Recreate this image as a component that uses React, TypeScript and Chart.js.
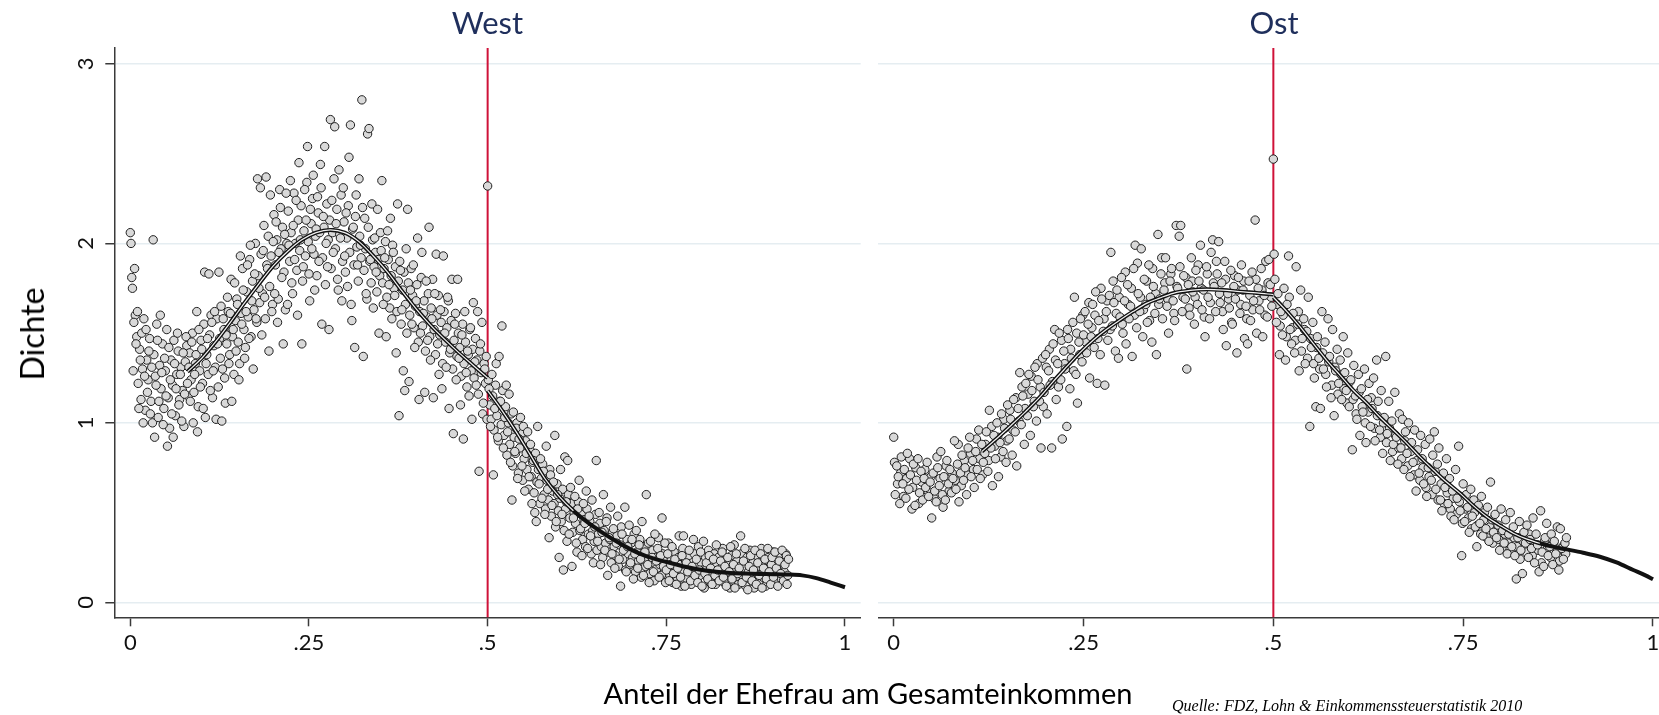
import React, { useEffect, useRef } from 'react';
import { Chart, registerables } from 'chart.js';

Chart.register(...registerables);

// ---------------- data ----------------
const xTickValues = [0, 0.25, 0.5, 0.75, 1];
const xTickLabels = ['0', '.25', '.5', '.75', '1'];
const yTickValues = [0, 1, 2, 3];
const yTickLabels = ['0', '1', '2', '3'];
const panelTitles = ['West', 'Ost'];
const thresholdShare = 0.5;
const yAxisTitle = 'Dichte';
const xAxisTitle = 'Anteil der Ehefrau am Gesamteinkommen';
const sourceNote = 'Quelle: FDZ, Lohn & Einkommenssteuerstatistik 2010';

// West: binned densities (share, density), even bins
const westPoints: [number, number][] = [
  [.000,2.06],[.001,2.00],[.002,1.81],[.003,1.75],[.004,1.29],[.005,1.56],[.006,1.86],[.008,1.44],[.010,1.62],[.012,1.08],
  [.014,1.35],[.016,1.50],[.018,1.00],[.020,1.26],[.022,1.52],[.024,1.17],[.026,1.40],[.028,1.05],[.030,1.31],[.032,2.02],
  [.034,0.92],[.036,1.21],[.038,1.46],[.040,1.12],[.042,1.60],[.044,1.28],[.046,0.99],[.048,1.36],[.050,1.15],[.052,0.87],
  [.054,1.42],[.056,1.24],[.058,1.05],[.060,0.92],[.062,1.33],[.064,1.19],[.066,1.50],[.068,1.10],[.070,1.27],[.072,1.01],
  [.074,1.39],[.076,1.16],[.078,1.48],[.080,1.22],[.082,1.31],[.084,1.12],[.086,1.45],[.088,1.00],[.090,1.27],[.092,1.38],
  [.094,0.95],[.096,1.52],[.098,1.20],[.100,1.41],[.102,1.08],[.104,1.84],[.106,1.33],[.108,1.47],[.110,1.83],[.112,1.18],
  [.114,1.56],[.116,1.29],[.118,1.62],[.120,1.02],[.122,1.44],[.124,1.84],[.126,1.36],[.128,1.01],[.130,1.58],[.132,1.25],
  [.134,1.49],[.136,1.70],[.138,1.33],[.140,1.61],[.142,1.12],[.144,1.52],[.146,1.78],[.148,1.40],[.150,1.66],[.152,1.24],
  [.154,1.93],[.156,1.55],[.158,1.74],[.160,1.36],[.162,1.62],[.164,1.88],[.166,1.47],[.168,1.99],[.170,1.68],[.172,1.30],
  [.174,1.83],[.176,1.58],[.178,2.36],[.180,1.75],[.182,2.31],[.184,1.49],[.186,1.96],[.188,1.70],[.190,2.37],[.192,1.86],
  [.194,1.40],[.196,2.27],[.198,1.62],[.200,2.01],[.202,1.72],[.204,2.12],[.206,1.56],[.208,1.95],[.210,2.20],[.212,1.81],
  [.214,1.44],[.216,2.05],[.218,2.28],[.220,1.66],[.222,1.99],[.224,2.35],[.226,1.78],[.228,2.10],[.230,1.91],[.232,2.24],
  [.234,1.60],[.236,2.45],[.238,2.02],[.240,1.44],[.242,1.87],[.244,2.30],[.246,2.13],[.248,2.54],[.250,1.83],[.252,2.19],
  [.254,1.97],[.256,2.38],[.258,1.74],[.260,2.08],[.262,2.26],[.264,1.90],[.266,2.44],[.268,1.55],[.270,2.15],[.272,2.54],
  [.274,2.00],[.276,1.87],[.278,1.52],[.280,2.69],[.282,2.24],[.284,1.95],[.286,2.65],[.288,2.11],[.290,1.80],[.292,2.41],
  [.294,2.03],[.296,1.68],[.298,2.31],[.300,1.93],[.302,2.17],[.304,1.76],[.306,2.48],[.308,2.66],[.310,1.57],[.312,2.09],
  [.314,1.42],[.316,2.27],[.318,1.88],[.320,2.36],[.322,1.99],[.324,2.80],[.326,1.37],[.328,2.14],[.330,1.72],[.332,2.61],
  [.334,2.64],[.336,1.91],[.338,2.22],[.340,1.64],[.342,2.03],[.344,1.84],[.346,2.19],[.348,1.50],[.350,2.06],[.352,2.35],
  [.354,1.66],[.356,1.92],[.358,1.48],[.360,2.07],[.362,1.77],[.364,2.14],[.366,1.58],[.368,1.95],[.370,1.71],[.372,1.39],
  [.374,2.22],[.376,1.04],[.378,1.85],[.380,1.63],[.382,1.29],[.384,1.18],[.386,1.97],[.388,2.19],[.390,1.23],[.392,1.74],
  [.394,1.55],[.396,1.88],[.398,1.42],[.400,1.68],[.402,2.03],[.404,1.13],[.406,1.50],[.408,1.95],[.410,1.61],[.412,1.17],
  [.414,1.79],[.416,1.46],[.418,2.09],[.420,1.35],[.422,1.58],[.424,1.14],[.426,1.72],[.428,1.94],[.430,1.44],[.432,1.27],
  [.434,1.63],[.436,1.19],[.438,1.93],[.440,1.50],[.442,1.31],[.444,1.70],[.446,1.08],[.448,1.41],[.450,1.80],[.452,0.94],
  [.454,1.55],[.456,1.24],[.458,1.80],[.460,1.36],[.462,1.10],[.464,1.49],[.466,0.91],[.468,1.62],[.470,1.28],[.472,1.40],
  [.474,1.15],[.476,1.53],[.478,1.02],[.480,1.67],[.482,1.34],[.484,1.21],[.486,1.62],[.488,0.73],[.490,1.44],[.492,1.56],
  [.494,1.11],[.496,1.30],[.498,1.37],[.500,2.32],[.502,1.19],[.504,0.98],[.506,1.27],[.508,0.71],[.510,1.08],[.512,1.33],
  [.514,0.92],[.516,1.37],[.518,1.12],[.520,1.54],[.522,0.86],[.524,1.03],[.526,1.21],[.528,0.95],[.530,1.16],[.532,0.78],
  [.534,0.57],[.536,1.06],[.538,0.84],[.540,0.97],[.542,0.69],[.544,0.91],[.546,1.03],[.548,0.76],[.550,0.98],[.552,0.62],
  [.554,0.83],[.556,0.95],[.558,0.70],[.560,0.88],[.562,0.55],[.564,0.79],[.566,0.50],[.568,0.45],[.570,0.98],[.572,0.66],
  [.574,0.80],[.576,0.58],[.578,0.73],[.580,0.49],[.582,0.87],[.584,0.63],[.586,0.36],[.588,0.71],[.590,0.54],[.592,0.67],
  [.594,0.93],[.596,0.45],[.598,0.60],[.600,0.25],[.602,0.74],[.604,0.49],[.606,0.18],[.608,0.81],[.610,0.56],[.612,0.79],
  [.614,0.38],[.616,0.64],[.618,0.20],[.620,0.47],[.622,0.59],[.624,0.33],[.626,0.52],[.628,0.68],[.630,0.41],[.632,0.26],
  [.634,0.55],[.636,0.44],[.638,0.62],[.640,0.30],[.642,0.48],[.644,0.37],[.646,0.57],[.648,0.22],[.650,0.42],[.652,0.79],
  [.654,0.34],[.656,0.50],[.658,0.21],[.660,0.39],[.662,0.60],[.664,0.29],[.666,0.45],[.668,0.15],[.670,0.36],[.672,0.53],
  [.674,0.27],[.676,0.41],[.678,0.19],[.680,0.33],[.682,0.48],[.684,0.24],[.686,0.09],[.688,0.38],[.690,0.29],[.692,0.53],
  [.694,0.17],[.696,0.31],[.698,0.43],[.700,0.22],[.702,0.35],[.704,0.13],[.706,0.27],[.708,0.40],[.710,0.19],[.712,0.32],
  [.714,0.24],[.716,0.45],[.718,0.15],[.720,0.28],[.722,0.60],[.724,0.21],[.726,0.11],[.728,0.34],[.730,0.25],[.732,0.17],
  [.734,0.38],[.736,0.23],[.738,0.30],[.740,0.14],[.742,0.26],[.744,0.47],[.746,0.20],[.748,0.33],[.750,0.18],[.752,0.27],
  [.754,0.12],[.756,0.21],[.758,0.31],[.760,0.16],[.762,0.24],[.764,0.10],[.766,0.19],[.768,0.37],[.770,0.14],[.772,0.26],
  [.774,0.37],[.776,0.09],[.778,0.22],[.780,0.17],[.782,0.29],[.784,0.12],[.786,0.20],[.788,0.35],[.790,0.15],[.792,0.24],
  [.794,0.11],[.796,0.18],[.798,0.28],[.800,0.09],[.802,0.34],[.804,0.16],[.806,0.22],[.808,0.13],[.810,0.26],[.812,0.19],
  [.814,0.10],[.816,0.24],[.818,0.15],[.820,0.32],[.822,0.18],[.824,0.12],[.826,0.23],[.828,0.28],[.830,0.14],[.832,0.20],
  [.834,0.09],[.836,0.25],[.838,0.17],[.840,0.31],[.842,0.13],[.844,0.21],[.846,0.08],[.848,0.27],[.850,0.16],[.852,0.19],
  [.854,0.37],[.856,0.11],[.858,0.23],[.860,0.30],[.862,0.14],[.864,0.07],[.866,0.20],[.868,0.26],[.870,0.12],[.872,0.18],
  [.874,0.29],[.876,0.10],[.878,0.22],[.880,0.15],[.882,0.27],[.884,0.08],[.886,0.19],[.888,0.24],[.890,0.13],[.892,0.30],
  [.894,0.17],[.896,0.10],[.898,0.25],[.900,0.14],[.902,0.28],[.904,0.19],[.906,0.09],[.908,0.23],[.910,0.16],[.912,0.29],
  [.914,0.12],[.916,0.21],[.918,0.26],[.919,0.10],[.920,0.15],[.921,0.24],
];

// West: odd bins
const westPointsOdd: [number, number][] = [
  [.007,1.60],[.009,1.48],[.011,1.22],[.013,1.41],[.015,1.13],[.017,1.30],[.019,1.58],[.021,1.07],[.023,1.35],[.025,1.24],
  [.027,1.47],[.029,1.12],[.031,1.00],[.033,1.38],[.035,1.26],[.037,1.55],[.039,1.03],[.041,1.32],[.043,1.19],[.045,1.44],
  [.047,1.08],[.049,1.29],[.051,1.52],[.053,1.14],[.055,0.97],[.057,1.35],[.059,1.21],[.061,1.46],[.063,1.04],[.065,1.27],
  [.067,1.40],[.069,1.13],[.071,1.31],[.073,1.18],[.075,0.98],[.077,1.34],[.079,1.43],[.081,1.15],[.083,1.39],[.085,1.24],
  [.087,1.50],[.089,1.17],[.091,1.33],[.093,1.62],[.095,1.09],[.097,1.29],[.099,1.46],[.101,1.22],[.103,1.55],[.105,1.03],
  [.107,1.38],[.109,1.27],[.111,1.49],[.113,1.60],[.115,1.14],[.117,1.43],[.119,1.31],[.121,1.58],[.123,1.20],[.125,1.47],
  [.127,1.65],[.129,1.30],[.131,1.52],[.133,1.11],[.135,1.44],[.137,1.62],[.139,1.38],[.141,1.80],[.143,1.48],[.145,1.27],
  [.147,1.57],[.149,1.69],[.151,1.45],[.153,1.33],[.155,1.61],[.157,1.86],[.159,1.52],[.161,1.42],[.163,1.73],[.165,1.59],
  [.167,1.91],[.169,1.48],[.171,1.79],[.173,1.63],[.175,2.00],[.177,1.56],[.179,1.82],[.181,1.67],[.183,1.94],[.185,1.72],
  [.187,2.10],[.189,1.58],[.191,1.88],[.193,2.04],[.195,1.76],[.197,1.93],[.199,1.66],[.201,2.16],[.203,1.88],[.205,2.02],
  [.207,1.69],[.209,2.30],[.211,1.97],[.213,2.09],[.215,1.84],[.217,1.63],[.219,2.00],[.221,2.18],[.223,1.90],[.225,2.06],
  [.227,1.72],[.229,2.28],[.231,2.00],[.233,1.85],[.235,2.13],[.237,1.96],[.239,2.21],[.241,1.79],[.243,2.07],[.245,1.93],
  [.247,2.34],[.249,2.01],[.251,1.68],[.253,2.11],[.255,2.25],[.257,1.94],[.259,2.04],[.261,1.82],[.263,2.17],[.265,2.06],
  [.267,2.31],[.269,1.92],[.271,2.09],[.273,1.77],[.275,2.22],[.277,2.02],[.279,2.13],[.281,1.86],[.283,2.06],[.285,2.36],
  [.287,1.97],[.289,2.19],[.291,1.74],[.293,2.05],[.295,2.27],[.297,1.90],[.299,2.12],[.301,1.84],[.303,2.03],[.305,2.21],
  [.307,1.95],[.309,1.66],[.311,2.08],[.313,1.88],[.315,2.15],[.317,1.98],[.319,1.79],[.321,2.04],[.323,1.92],[.325,2.20],
  [.327,1.85],[.329,1.97],[.331,1.69],[.333,2.09],[.335,1.90],[.337,1.78],[.339,2.02],[.341,1.87],[.343,1.95],[.345,1.73],
  [.347,1.91],[.349,1.82],[.351,1.96],[.353,1.78],[.355,1.86],[.357,2.01],[.359,1.70],[.361,1.91],[.363,1.64],[.365,1.82],
  [.367,1.99],[.369,1.75],[.371,1.87],[.373,1.62],[.375,1.79],[.377,1.90],[.379,1.55],[.381,1.74],[.383,1.84],[.385,1.66],
  [.387,1.50],[.389,1.78],[.391,1.60],[.393,1.86],[.395,1.71],[.397,1.53],[.399,1.65],[.401,1.77],[.403,1.45],[.405,1.62],
  [.407,1.81],[.409,1.54],[.411,1.68],[.413,1.40],[.415,1.59],[.417,1.72],[.419,1.48],[.421,1.64],[.423,1.80],[.425,1.52],
  [.427,1.38],[.429,1.60],[.431,1.71],[.433,1.49],[.435,1.56],[.437,1.33],[.439,1.62],[.441,1.45],[.443,1.53],[.445,1.68],
  [.447,1.39],[.449,1.57],[.451,1.30],[.453,1.46],[.455,1.61],[.457,1.37],[.459,1.50],[.461,1.42],[.463,1.26],[.465,1.55],
  [.467,1.33],[.469,1.45],[.471,1.20],[.473,1.38],[.475,1.52],[.477,1.29],[.479,1.41],[.481,1.25],[.483,1.47],[.485,1.35],
  [.487,1.16],[.489,1.40],[.491,1.28],[.493,1.05],[.495,1.33],[.497,1.22],[.499,1.02],[.501,1.24],[.503,1.10],[.505,1.02],
  [.507,1.15],[.509,0.96],[.511,1.21],[.513,1.04],[.515,0.90],[.517,1.12],[.519,0.99],[.521,1.18],[.523,0.93],[.525,1.09],
  [.527,0.82],[.529,1.00],[.531,0.88],[.533,1.05],[.535,0.76],[.537,0.92],[.539,0.83],[.541,1.00],[.543,0.72],[.545,0.86],
  [.547,0.94],[.549,0.68],[.551,0.80],[.553,0.90],[.555,0.74],[.557,0.63],[.559,0.85],[.561,0.70],[.563,0.78],[.565,0.61],
  [.567,0.83],[.569,0.67],[.571,0.74],[.573,0.55],[.575,0.69],[.577,0.77],[.579,0.60],[.581,0.52],[.583,0.68],[.585,0.57],
  [.587,0.74],[.589,0.48],[.591,0.62],[.593,0.55],[.595,0.42],[.597,0.66],[.599,0.51],[.601,0.58],[.603,0.45],[.605,0.63],
  [.607,0.40],[.609,0.52],[.611,0.34],[.613,0.60],[.615,0.47],[.617,0.55],[.619,0.39],[.621,0.50],[.623,0.44],[.625,0.28],
  [.627,0.56],[.629,0.40],[.631,0.49],[.633,0.35],[.635,0.46],[.637,0.31],[.639,0.52],[.641,0.38],[.643,0.45],[.645,0.27],
  [.647,0.40],[.649,0.34],[.651,0.49],[.653,0.29],[.655,0.38],[.657,0.44],[.659,0.31],[.661,0.25],[.663,0.40],[.665,0.33],
  [.667,0.47],[.669,0.28],[.671,0.35],[.673,0.22],[.675,0.39],[.677,0.31],[.679,0.26],[.681,0.37],[.683,0.20],[.685,0.32],
  [.687,0.42],[.689,0.24],[.691,0.30],[.693,0.18],[.695,0.35],[.697,0.27],[.699,0.21],[.701,0.33],[.703,0.25],[.705,0.38],
  [.707,0.17],[.709,0.28],[.711,0.23],[.713,0.35],[.715,0.14],[.717,0.26],[.719,0.31],[.721,0.20],[.723,0.24],[.725,0.33],
  [.727,0.16],[.729,0.22],[.731,0.29],[.733,0.12],[.735,0.25],[.737,0.19],[.739,0.36],[.741,0.21],[.743,0.15],[.745,0.27],
  [.747,0.23],[.749,0.11],[.751,0.20],[.753,0.33],[.755,0.15],[.757,0.24],[.759,0.11],[.761,0.28],[.763,0.19],[.765,0.14],
  [.767,0.25],[.769,0.21],[.771,0.09],[.773,0.30],[.775,0.17],[.777,0.23],[.779,0.13],[.781,0.26],[.783,0.20],[.785,0.10],
  [.787,0.16],[.789,0.27],[.791,0.21],[.793,0.13],[.795,0.31],[.797,0.15],[.799,0.22],[.801,0.18],[.803,0.08],[.805,0.25],
  [.807,0.19],[.809,0.29],[.811,0.12],[.813,0.22],[.815,0.16],[.817,0.27],[.819,0.10],[.821,0.21],[.823,0.25],[.825,0.14],
  [.827,0.19],[.829,0.30],[.831,0.11],[.833,0.24],[.835,0.17],[.837,0.21],[.839,0.08],[.841,0.26],[.843,0.18],[.845,0.32],
  [.847,0.14],[.849,0.23],[.851,0.10],[.853,0.20],[.855,0.27],[.857,0.15],[.859,0.19],[.861,0.09],[.863,0.25],[.865,0.17],
  [.867,0.29],[.869,0.13],[.871,0.22],[.873,0.08],[.875,0.18],[.877,0.26],[.879,0.11],[.881,0.20],[.883,0.30],[.885,0.14],
  [.887,0.23],[.889,0.09],[.891,0.18],[.893,0.25],[.895,0.12],[.897,0.21],[.899,0.28],[.901,0.16],[.903,0.11],[.905,0.24],
  [.907,0.19],[.909,0.27],[.911,0.13],[.913,0.22],[.915,0.17],[.917,0.27],
];

const westCurveLeft: [number, number][] = [
  [.080,1.285],[.100,1.36],[.120,1.455],[.140,1.56],[.160,1.67],[.180,1.775],[.200,1.875],[.220,1.955],[.240,2.02],
  [.260,2.06],[.280,2.075],[.300,2.06],[.320,2.01],[.340,1.93],[.360,1.84],[.380,1.735],[.400,1.635],[.420,1.545],
  [.440,1.465],[.460,1.39],[.480,1.32],[.500,1.25],
];
const westCurveRight: [number, number][] = [
  [.500,1.18],[.520,1.07],[.540,0.95],[.560,0.82],[.580,0.69],[.600,0.59],[.620,0.51],[.640,0.445],[.660,0.39],
  [.680,0.34],[.700,0.295],[.720,0.26],[.740,0.235],[.760,0.215],[.780,0.195],[.800,0.18],[.820,0.17],[.840,0.163],
  [.860,0.16],[.880,0.158],[.900,0.157],[.920,0.155],[.940,0.15],[.960,0.135],[.980,0.11],[1.000,0.084],
];

// Ost: binned densities (share, density)
const ostPoints: [number, number][] = [
  [.000,0.92],[.002,0.60],[.004,0.76],[.006,0.70],[.008,0.55],[.010,0.81],[.012,0.66],[.014,0.74],[.016,0.58],[.018,0.83],
  [.020,0.63],[.022,0.71],[.024,0.52],[.026,0.77],[.028,0.54],[.030,0.68],[.032,0.80],[.034,0.61],[.036,0.73],[.038,0.57],
  [.040,0.69],[.042,0.64],[.044,0.78],[.046,0.59],[.048,0.67],[.050,0.47],[.052,0.72],[.054,0.62],[.056,0.56],[.058,0.75],
  [.060,0.65],[.062,0.84],[.064,0.60],[.066,0.70],[.068,0.57],[.070,0.79],[.072,0.66],[.074,0.74],[.076,0.61],[.078,0.69],
  [.080,0.90],[.082,0.63],[.084,0.77],[.086,0.56],[.088,0.72],[.090,0.82],[.092,0.68],[.094,0.75],[.096,0.60],[.098,0.86],
  [.100,0.92],[.102,0.70],[.104,0.79],[.106,0.64],[.108,0.84],[.110,0.74],[.112,0.96],[.114,0.69],[.116,0.88],[.118,0.78],
  [.120,0.83],[.122,0.95],[.124,0.73],[.126,1.07],[.128,0.86],[.130,0.65],[.132,0.93],[.134,0.80],[.136,1.00],[.138,0.70],
  [.140,0.89],[.142,1.05],[.144,0.84],[.146,0.97],[.148,0.78],[.150,1.10],[.152,0.91],[.154,1.02],[.156,0.82],[.158,1.13],
  [.160,0.95],[.162,0.76],[.164,1.08],[.166,1.28],[.168,0.99],[.170,1.15],[.172,0.88],[.174,1.22],[.176,1.04],[.178,1.27],
  [.180,0.93],[.182,1.18],[.184,1.09],[.186,1.31],[.188,1.01],[.190,1.24],[.192,1.12],[.194,0.86],[.196,1.36],[.198,1.17],
  [.200,1.38],[.202,1.05],[.204,1.29],[.206,1.21],[.208,0.86],[.210,1.44],[.212,1.52],[.214,1.13],[.216,1.33],[.218,1.50],
  [.220,1.24],[.222,0.91],[.224,1.40],[.226,1.30],[.228,0.98],[.230,1.47],[.232,1.19],[.234,1.36],[.236,1.56],[.238,1.70],
  [.240,1.27],[.242,1.11],[.244,1.45],[.246,1.58],[.248,1.34],[.250,1.49],[.252,1.62],[.254,1.39],[.256,1.55],[.258,1.25],
  [.260,1.48],[.262,1.66],[.264,1.42],[.266,1.73],[.268,1.22],[.270,1.57],[.272,1.38],[.274,1.69],[.276,1.51],[.278,1.21],
  [.280,1.62],[.282,1.46],[.284,1.71],[.286,1.95],[.288,1.54],[.290,1.67],[.292,1.40],[.294,1.74],[.296,1.36],[.298,1.59],
  [.300,1.81],[.302,1.50],[.304,1.68],[.306,1.44],[.308,1.77],[.310,1.58],[.312,1.65],[.314,1.37],[.316,1.86],[.318,1.99],
  [.320,1.53],[.322,1.72],[.324,1.62],[.326,1.97],[.328,1.48],[.330,1.80],[.332,1.66],[.334,1.56],[.336,1.88],[.338,1.70],
  [.340,1.45],[.342,1.76],[.344,1.61],[.346,1.38],[.348,2.05],[.350,1.69],[.352,1.83],[.354,1.58],[.356,1.74],[.358,1.92],
  [.360,1.65],[.362,1.50],[.364,1.79],[.366,1.86],[.368,1.68],[.370,1.57],[.372,2.10],[.374,1.75],[.376,2.04],[.378,2.10],
  [.380,1.62],[.382,1.82],[.384,1.69],[.386,1.30],[.388,1.77],[.390,1.60],[.392,1.92],[.394,1.73],[.396,1.55],[.398,1.85],
  [.400,1.66],[.402,1.79],[.404,1.99],[.406,1.63],[.408,1.74],[.410,1.48],[.412,1.87],[.414,1.70],[.416,1.58],[.418,1.95],
  [.420,2.02],[.422,1.76],[.424,1.62],[.426,1.83],[.428,2.01],[.430,1.67],[.432,1.78],[.434,1.52],[.436,1.90],[.438,1.43],
  [.440,1.72],[.442,1.64],[.444,1.85],[.446,1.55],[.448,1.76],[.450,1.69],[.452,1.39],[.454,1.81],[.456,1.61],[.458,1.88],
  [.460,1.74],[.462,1.47],[.464,1.65],[.466,1.44],[.468,1.79],[.470,1.57],[.472,1.84],[.474,1.68],[.476,2.13],[.478,1.50],
  [.480,1.75],[.482,1.63],[.484,1.86],[.486,1.48],[.488,1.71],[.490,1.90],[.492,1.59],[.494,1.91],[.496,1.77],[.498,1.65],
  [.500,2.47],[.501,1.94],[.502,1.80],[.504,1.56],[.506,1.72],[.508,1.38],[.510,1.62],[.512,1.49],[.514,1.75],[.516,1.35],
  [.518,1.66],[.520,1.93],[.522,1.52],[.524,1.44],[.526,1.61],[.528,1.39],[.530,1.87],[.532,1.55],[.534,1.29],[.536,1.74],
  [.538,1.47],[.540,1.58],[.542,1.33],[.544,1.51],[.546,1.70],[.548,0.98],[.550,1.42],[.552,1.56],[.554,1.25],[.556,1.09],
  [.558,1.48],[.560,1.36],[.562,1.08],[.564,1.62],[.566,1.30],[.568,1.45],[.570,1.20],[.572,1.58],[.574,1.37],[.576,1.14],
  [.578,1.52],[.580,1.04],[.582,1.29],[.584,1.41],[.586,1.22],[.588,1.35],[.590,1.13],[.592,1.48],[.594,1.28],[.596,1.18],
  [.598,1.39],[.600,1.09],[.602,1.24],[.604,0.85],[.606,1.32],[.608,1.15],[.610,1.02],[.612,1.27],[.614,0.93],[.616,1.19],
  [.618,1.06],[.620,1.30],[.622,0.89],[.624,1.13],[.626,1.22],[.628,0.98],[.630,1.08],[.632,1.25],[.634,0.90],[.636,1.35],
  [.638,1.12],[.640,0.96],[.642,1.18],[.644,0.83],[.646,1.03],[.648,1.37],[.650,0.94],[.652,1.12],[.654,0.79],[.656,1.01],
  [.658,0.88],[.660,1.17],[.662,0.92],[.664,0.77],[.666,1.05],[.668,0.86],[.670,1.02],[.672,0.74],[.674,0.95],[.676,0.83],
  [.678,1.00],[.680,0.70],[.682,0.89],[.684,0.78],[.686,0.96],[.688,0.62],[.690,0.85],[.692,0.72],[.694,0.93],[.696,0.80],
  [.698,0.66],[.700,0.88],[.702,0.59],[.704,0.75],[.706,0.91],[.708,0.68],[.710,0.82],[.712,0.95],[.714,0.63],[.716,0.77],
  [.718,0.86],[.720,0.57],[.722,0.51],[.724,0.72],[.726,0.64],[.728,0.80],[.730,0.55],[.732,0.69],[.734,0.48],[.736,0.62],
  [.738,0.46],[.740,0.74],[.742,0.58],[.744,0.87],[.746,0.51],[.748,0.26],[.750,0.66],[.752,0.45],[.754,0.60],[.756,0.53],
  [.758,0.39],[.760,0.63],[.762,0.48],[.764,0.57],[.766,0.42],[.768,0.31],[.770,0.54],[.772,0.44],[.774,0.59],[.776,0.37],
  [.778,0.50],[.780,0.41],[.782,0.53],[.784,0.34],[.786,0.67],[.788,0.46],[.790,0.39],[.792,0.49],[.794,0.36],[.796,0.43],
  [.798,0.29],[.800,0.52],[.802,0.40],[.804,0.33],[.806,0.46],[.808,0.27],[.810,0.38],[.812,0.50],[.814,0.31],[.816,0.42],
  [.818,0.26],[.820,0.13],[.822,0.36],[.824,0.45],[.826,0.29],[.828,0.16],[.830,0.39],[.832,0.33],[.834,0.43],[.836,0.25],
  [.838,0.35],[.840,0.30],[.842,0.47],[.844,0.22],[.846,0.38],[.848,0.32],[.850,0.17],[.852,0.51],[.854,0.28],[.856,0.20],
  [.858,0.36],[.860,0.44],[.862,0.26],[.864,0.31],[.866,0.38],[.868,0.21],[.870,0.34],[.872,0.27],[.874,0.42],[.876,0.18],
  [.878,0.41],[.880,0.30],[.882,0.24],[.884,0.33],[.886,0.36],
];

// Ost: further bins
const ostPointsOdd: [number, number][] = [
  [.001,0.78],[.005,0.66],[.009,0.72],[.013,0.59],[.017,0.69],[.021,0.80],[.025,0.64],[.029,0.75],[.033,0.55],[.037,0.67],
  [.041,0.74],[.045,0.62],[.049,0.70],[.053,0.58],[.057,0.81],[.061,0.69],[.065,0.53],[.069,0.76],[.073,0.62],[.077,0.72],
  [.081,0.68],[.085,0.88],[.089,0.65],[.093,0.79],[.097,0.71],[.101,0.83],[.105,0.74],[.109,0.91],[.113,0.80],[.117,0.71],
  [.121,0.88],[.125,0.79],[.129,0.98],[.133,0.87],[.137,0.92],[.141,0.81],[.145,1.02],[.149,0.90],[.153,1.07],[.157,0.96],
  [.161,1.14],[.165,1.01],[.169,1.20],[.173,1.08],[.177,1.16],[.181,1.26],[.185,1.12],[.189,1.33],[.193,1.20],[.197,1.09],
  [.201,1.31],[.205,1.41],[.209,1.23],[.213,1.35],[.217,1.20],[.221,1.46],[.225,1.33],[.229,1.52],[.233,1.41],[.237,1.29],
  [.241,1.50],[.245,1.38],[.249,1.60],[.253,1.45],[.257,1.67],[.261,1.53],[.265,1.60],[.269,1.47],[.273,1.75],[.277,1.58],
  [.281,1.68],[.285,1.52],[.289,1.79],[.293,1.61],[.297,1.70],[.301,1.55],[.305,1.84],[.309,1.66],[.313,1.75],[.317,1.60],
  [.321,1.89],[.325,1.70],[.329,1.63],[.333,1.79],[.337,1.57],[.341,1.86],[.345,1.72],[.349,1.66],[.353,1.92],[.357,1.78],
  [.361,1.69],[.365,1.83],[.369,1.61],[.373,1.76],[.377,1.87],[.381,1.70],[.385,1.81],[.389,1.64],[.393,1.79],[.397,1.70],
  [.401,1.88],[.405,1.75],[.409,1.59],[.413,1.83],[.417,1.67],[.421,1.78],[.425,1.90],[.429,1.72],[.433,1.62],[.437,1.80],
  [.441,1.69],[.445,1.56],[.449,1.82],[.453,1.74],[.457,1.66],[.461,1.79],[.465,1.58],[.469,1.71],[.473,1.63],[.477,1.80],
  [.481,1.68],[.485,1.74],[.489,1.60],[.493,1.78],[.497,1.70],[.505,1.66],[.509,1.54],[.513,1.60],[.517,1.48],[.521,1.70],
  [.525,1.53],[.529,1.46],[.533,1.62],[.537,1.40],[.541,1.52],[.545,1.36],[.549,1.47],[.553,1.33],[.557,1.42],[.561,1.30],
  [.565,1.39],[.569,1.27],[.573,1.34],[.577,1.21],[.581,1.31],[.585,1.16],[.589,1.27],[.593,1.19],[.597,1.11],[.601,1.23],
  [.605,1.13],[.609,1.05],[.613,1.17],[.617,1.09],[.621,1.00],[.625,1.06],[.629,1.14],[.633,0.97],[.637,1.04],[.641,0.92],
  [.645,1.00],[.649,0.89],[.653,0.97],[.657,0.84],[.661,0.93],[.665,0.86],[.669,0.80],[.673,0.90],[.677,0.76],[.681,0.84],
  [.685,0.71],[.689,0.79],[.693,0.68],[.697,0.75],[.701,0.64],[.705,0.70],[.709,0.60],[.713,0.73],[.717,0.57],[.721,0.66],
  [.725,0.55],[.729,0.61],[.733,0.52],[.737,0.58],[.741,0.49],[.745,0.56],[.749,0.44],[.753,0.52],[.757,0.47],[.761,0.41],
  [.765,0.50],[.769,0.43],[.773,0.38],[.777,0.46],[.781,0.36],[.785,0.42],[.789,0.33],[.793,0.40],[.797,0.35],[.801,0.30],
  [.805,0.38],[.809,0.33],[.813,0.28],[.817,0.36],[.821,0.31],[.825,0.24],[.829,0.34],[.833,0.28],[.837,0.38],[.841,0.26],
  [.845,0.32],[.849,0.29],[.853,0.22],[.857,0.34],[.861,0.30],[.865,0.25],[.869,0.33],[.873,0.28],[.877,0.23],[.881,0.31],
  [.885,0.27],
];

const ostCurveLeft: [number, number][] = [
  [.116,0.84],[.135,0.91],[.153,0.98],[.173,1.06],[.193,1.146],[.210,1.23],[.228,1.313],[.245,1.39],[.263,1.462],
  [.280,1.52],[.298,1.573],[.315,1.62],[.333,1.666],[.350,1.695],[.368,1.722],[.390,1.738],[.412,1.744],[.434,1.74],
  [.456,1.731],[.478,1.724],[.500,1.715],
];
const ostCurveRight: [number, number][] = [
  [.500,1.70],[.518,1.62],[.535,1.536],[.553,1.44],[.570,1.35],[.588,1.265],[.605,1.183],[.623,1.11],[.640,1.034],
  [.658,0.96],[.676,0.886],[.693,0.81],[.711,0.737],[.728,0.67],[.746,0.607],[.763,0.54],[.781,0.477],[.798,0.43],
  [.816,0.385],[.834,0.352],[.851,0.329],[.868,0.31],[.886,0.295],[.908,0.276],[.930,0.254],[.952,0.222],[.974,0.18],
  [.990,0.15],[1.000,0.128],
];

// ---------------- styling ----------------
const FONT = 'Lato, "Open Sans", "DejaVu Sans", sans-serif';
const TITLE_COLOR = '#1f2f5c';
const RED = '#cf1239';
const GRID = '#e5edf1';
const AXIS = '#3a3a3a';
const H = 715;

const panelPlugin = {
  id: 'panel',
  beforeDatasetsDraw(chart: any, _a: any, o: any) {
    const { ctx, chartArea } = chart;
    const px = chart.scales.x.getPixelForValue(o.refX);
    ctx.save();
    ctx.strokeStyle = RED;
    ctx.lineWidth = 2;
    ctx.beginPath();
    ctx.moveTo(px, chartArea.top);
    ctx.lineTo(px, chartArea.bottom);
    ctx.stroke();
    ctx.restore();
  },
  afterDraw(chart: any, _a: any, o: any) {
    const { ctx, chartArea } = chart;
    const xs = chart.scales.x;
    const ys = chart.scales.y;
    ctx.save();
    ctx.fillStyle = TITLE_COLOR;
    ctx.font = `31px ${FONT}`;
    ctx.textAlign = 'center';
    ctx.textBaseline = 'alphabetic';
    ctx.fillText(o.title, (chartArea.left + chartArea.right) / 2, 34);
    ctx.fillStyle = '#111';
    ctx.font = `22px ${FONT}`;
    xTickValues.forEach((v, i) => {
      ctx.fillText(xTickLabels[i], xs.getPixelForValue(v), 650);
    });
    if (o.yLabels) {
      yTickValues.forEach((v, i) => {
        ctx.save();
        ctx.translate(93, ys.getPixelForValue(v));
        ctx.rotate(-Math.PI / 2);
        ctx.textAlign = 'center';
        ctx.fillText(yTickLabels[i], 0, 0);
        ctx.restore();
      });
    }
    ctx.restore();
  },
};

type PanelProps = {
  left: number;
  width: number;
  title: string;
  points: [number, number][][];
  curves: [number, number][][];
  xMin: number;
  xMax: number;
  yAxisWidth: number;
  padRight: number;
  showYAxis: boolean;
  bandUntil: number;
};

function Panel(p: PanelProps) {
  const ref = useRef<HTMLCanvasElement>(null);
  useEffect(() => {
    let chart: Chart | null = null;
    let alive = true;
    const toXY = (arr: [number, number][]) => arr.map(([x, y]) => ({ x, y }));
    const make = () => {
      if (!alive || !ref.current) return;
      const datasets: any[] = [];
      p.points.forEach((pts) => {
        datasets.push({
          data: toXY(pts),
          pointRadius: 4.2,
          pointBorderWidth: 1,
          pointBackgroundColor: '#d9d9d9',
          pointBorderColor: '#1e1e1e',
          showLine: false,
          order: 5,
        });
      });
      p.curves.forEach((c) => {
        datasets.push({
          data: toXY(c),
          showLine: true,
          pointRadius: 0,
          borderColor: '#111',
          borderWidth: 4,
          cubicInterpolationMode: 'monotone',
          order: 3,
        });
        datasets.push({
          data: toXY(c),
          showLine: true,
          pointRadius: 0,
          borderColor: '#f2f2f2',
          borderWidth: 1.2,
          cubicInterpolationMode: 'monotone',
          segment: {
            borderColor: (ctx: any) => (ctx.p1.parsed.x <= p.bandUntil ? '#f2f2f2' : 'rgba(0,0,0,0)'),
          },
          order: 1,
        });
      });
      chart = new Chart(ref.current, {
        type: 'scatter',
        data: { datasets },
        options: {
          animation: false,
          responsive: false,
          events: [],
          layout: { padding: { top: 48, right: p.padRight, left: 0, bottom: 0 } },
          plugins: {
            legend: { display: false },
            tooltip: { enabled: false },
            panel: { refX: thresholdShare, title: p.title, yLabels: p.showYAxis },
          } as any,
          scales: {
            x: {
              type: 'linear',
              min: p.xMin,
              max: p.xMax,
              afterBuildTicks: (s: any) => {
                s.ticks = xTickValues.map((v) => ({ value: v }));
              },
              afterFit: (s: any) => {
                s.height = H - 617.3;
              },
              ticks: { display: false },
              grid: {
                drawOnChartArea: false,
                drawTicks: true,
                tickLength: 9,
                tickColor: AXIS,
                tickWidth: 1.5,
              },
              border: { display: true, color: AXIS, width: 1.5 },
            },
            y: {
              type: 'linear',
              min: -0.0836,
              max: 3.089,
              afterBuildTicks: (s: any) => {
                s.ticks = yTickValues.map((v) => ({ value: v }));
              },
              afterFit: (s: any) => {
                s.width = p.yAxisWidth;
              },
              ticks: { display: false },
              grid: {
                color: GRID,
                lineWidth: 1.5,
                drawTicks: p.showYAxis,
                tickLength: 9,
                tickColor: AXIS,
                tickWidth: 1.5,
              },
              border: { display: p.showYAxis, color: AXIS, width: 1.5 },
            },
          },
        },
        plugins: [panelPlugin as any],
      });
    };
    const fonts: any = (document as any).fonts;
    if (fonts && fonts.load) {
      Promise.all([fonts.load(`22px Lato`), fonts.load(`31px Lato`)]).then(make, make);
    } else {
      make();
    }
    return () => {
      alive = false;
      if (chart) chart.destroy();
    };
  }, []);
  return (
    <canvas
      ref={ref}
      width={p.width}
      height={H}
      style={{ position: 'absolute', left: p.left, top: 0, width: p.width, height: H }}
    />
  );
}

export default function App() {
  return (
    <div
      style={{
        position: 'fixed',
        left: 0,
        top: 0,
        width: 1659,
        height: H,
        overflow: 'hidden',
        background: '#fff',
      }}
    >
      <Panel
        left={0}
        width={875}
        title={panelTitles[0]}
        points={[westPoints, westPointsOdd]}
        curves={[westCurveLeft, westCurveRight]}
        xMin={-0.0224}
        xMax={1.022}
        yAxisWidth={114.3}
        padRight={14.3}
        showYAxis={true}
        bandUntil={0.62}
      />
      <Panel
        left={870}
        width={810}
        title={panelTitles[1]}
        points={[ostPoints, ostPointsOdd]}
        curves={[ostCurveLeft, ostCurveRight]}
        xMin={-0.0203}
        xMax={1.022}
        yAxisWidth={8.3}
        padRight={10.3}
        showYAxis={false}
        bandUntil={0.86}
      />
      <div
        style={{
          position: 'absolute',
          left: 32,
          top: 334,
          transform: 'translate(-50%, -50%) rotate(-90deg)',
          fontFamily: FONT,
          fontSize: 32,
          lineHeight: '32px',
          whiteSpace: 'nowrap',
          color: '#000',
        }}
      >
        {yAxisTitle}
      </div>
      <div
        style={{
          position: 'absolute',
          left: 868,
          top: 692,
          transform: 'translate(-50%, -50%)',
          fontFamily: FONT,
          fontSize: 29,
          lineHeight: '29px',
          whiteSpace: 'nowrap',
          color: '#000',
        }}
      >
        {xAxisTitle}
      </div>
      <div
        style={{
          position: 'absolute',
          left: 1172,
          top: 698,
          fontFamily: '"Liberation Serif", "Times New Roman", serif',
          fontStyle: 'italic',
          fontSize: 16,
          lineHeight: '16px',
          whiteSpace: 'nowrap',
          color: '#000',
        }}
      >
        {sourceNote}
      </div>
    </div>
  );
}
